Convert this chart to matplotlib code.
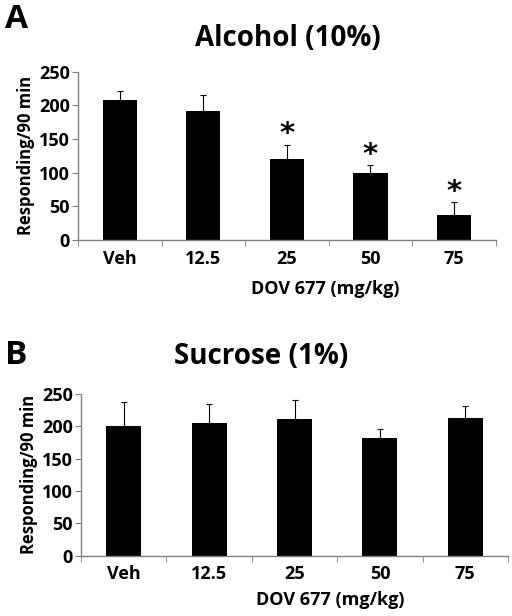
import numpy as np
import matplotlib
matplotlib.use("Agg")
import matplotlib.pyplot as plt

plt.rcParams['font.family'] = ['Open Sans', 'DejaVu Sans']
plt.rcParams['font.weight'] = 'bold'

doses = ['Veh', '12.5', '25', '50', '75']

# panel A: alcohol (10%)
alcohol_mean = [208, 191, 120, 99, 37]
alcohol_sem = [14, 25, 21, 12, 19]
alcohol_sig = [False, False, True, True, True]

# panel B: sucrose (1%)
sucrose_mean = [200, 205, 212, 182, 213]
sucrose_sem = [38, 29, 29, 14, 18]

W, H = 512, 616
fig = plt.figure(figsize=(W / 100, H / 100), dpi=100)


def draw_panel(ax, means, sems, sig=None):
    x = np.arange(len(doses))
    ax.bar(x, means, width=0.41, color='black', zorder=2)
    ax.errorbar(x, means, yerr=[np.zeros(len(sems)), sems], fmt='none',
                ecolor='black', elinewidth=0.8, capsize=2, capthick=0.8, zorder=3)
    if sig is not None:
        for xi, m, s, flag in zip(x, means, sems, sig):
            if flag:
                ax.text(xi, m + s - 5, '*', ha='center', va='bottom',
                        fontsize=21, fontweight='bold', family='DejaVu Sans')
    ax.set_xlim(-0.5, len(doses) - 0.5)
    ax.set_ylim(0, 250)
    ax.set_yticks([0, 50, 100, 150, 200, 250])
    ax.set_xticks(x)
    ax.set_xticklabels(doses)
    ax.set_xticks(np.arange(-0.5, len(doses)), minor=True)
    ax.tick_params(axis='x', which='major', length=0, labelsize=13, pad=7)
    ax.tick_params(axis='x', which='minor', length=4, direction='out', color='#808080')
    ax.tick_params(axis='y', length=4, direction='out', color='#808080', labelsize=13, pad=2)
    for sp in ['top', 'right']:
        ax.spines[sp].set_visible(False)
    for sp in ['left', 'bottom']:
        ax.spines[sp].set_color('#808080')
        ax.spines[sp].set_linewidth(1.0)
    ax.set_ylabel('Responding/90 min', fontsize=12, fontweight='bold', labelpad=3)


axA = fig.add_axes([78 / W, 1 - 240 / H, 417.7 / W, 168.3 / H])
draw_panel(axA, alcohol_mean, alcohol_sem, alcohol_sig)
axB = fig.add_axes([81 / W, 1 - 555.7 / H, 427 / W, 161.7 / H])
draw_panel(axB, sucrose_mean, sucrose_sem)

fig.text(288 / W, 1 - 38 / H, 'Alcohol (10%)', ha='center', va='center', fontsize=20, fontweight='bold')
fig.text(261 / W, 1 - 356 / H, 'Sucrose (1%)', ha='center', va='center', fontsize=20, fontweight='bold')
fig.text(5 / W, 1 - 19 / H, 'A', ha='left', va='center', fontsize=24, fontweight='bold')
fig.text(5 / W, 1 - 356 / H, 'B', ha='left', va='center', fontsize=24, fontweight='bold')
fig.text(325 / W, 1 - 289 / H, 'DOV 677 (mg/kg)', ha='center', va='center', fontsize=13, fontweight='bold')
fig.text(330 / W, 1 - 600 / H, 'DOV 677 (mg/kg)', ha='center', va='center', fontsize=13, fontweight='bold')

fig.savefig('out.png', dpi=100)
